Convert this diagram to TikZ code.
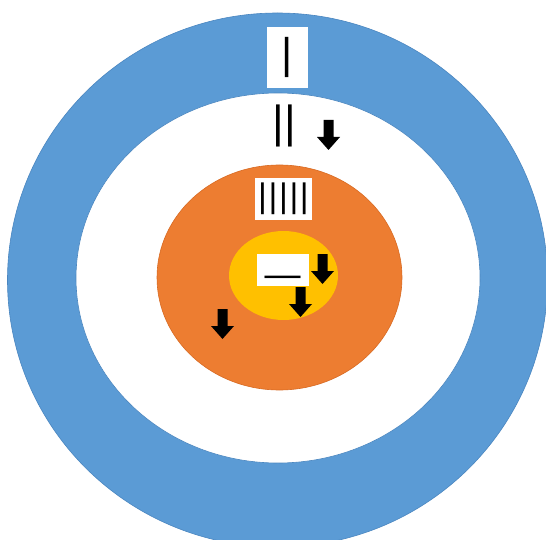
\documentclass[tikz,border=0pt]{standalone}
\usepackage{fontspec}
\setmainfont{Liberation Sans}
\definecolor{ringblue}{HTML}{5B9BD5}
\definecolor{ringblueline}{HTML}{4A86C0}
\definecolor{midorange}{HTML}{ED7D31}
\definecolor{midorangeline}{HTML}{D86A22}
\definecolor{coreyellow}{HTML}{FFC000}
\tikzset{
  whitebox/.style={fill=white, draw=none, inner sep=0pt, minimum width=#1},
  bartext/.style={inner sep=0pt, text=black},
  blockarrow/.pic={\fill[black] (-5,0) -- (5,0) -- (5,17) -- (11.5,17) -- (0,30) -- (-11.5,17) -- (-5,17) -- cycle;}
}
\begin{document}
\begin{tikzpicture}[x=1pt,y=-1pt]
\useasboundingbox (0,0) rectangle (546,540);
\clip (0,0) rectangle (546,540);
\fill[white] (0,0) rectangle (546,540);
% rings
\draw[fill=ringblue, draw=ringblueline, line width=0.6pt] (277.5,280) ellipse [x radius=270pt, y radius=267pt];
\draw[fill=white, draw=ringblueline, line width=0.6pt] (278,278) ellipse [x radius=202pt, y radius=185pt];
\draw[fill=midorange, draw=midorangeline, line width=0.6pt] (279.5,277.5) ellipse [x radius=122.5pt, y radius=112.5pt];
\fill[coreyellow] (283.5,275.5) ellipse [x radius=54.5pt, y radius=44.5pt];
% top box with one bar
\node[whitebox=41pt, minimum height=61pt] (box1) at (287.5,57.5) {};
\node[bartext, font=\fontsize{43}{43}\selectfont] (t1) at (box1.center) {|};
% two bars
\node[bartext, font=\fontsize{45}{45}\selectfont] (t2) at (284,126) {||};
% five bars box
\node[whitebox=57pt, minimum height=42pt] (box5) at (283.5,199) {};
\node[bartext, font=\fontsize{34}{34}\selectfont] (t5) at (box5.center) {|\kern1.6pt|\kern1.6pt|\kern1.6pt|\kern1.6pt|};
% dash box
\node[whitebox=52pt, minimum height=32pt] (boxd) at (283,270) {};
\node[bartext, font=\fontsize{36}{36}\selectfont, anchor=base] (td) at (282.5,286.5) {—};
% block arrows
\pic at (328.5,120) {blockarrow};
\pic at (322.5,254) {blockarrow};
\pic at (300.5,287) {blockarrow};
\pic at (222.5,309) {blockarrow};
\end{tikzpicture}
\end{document}
